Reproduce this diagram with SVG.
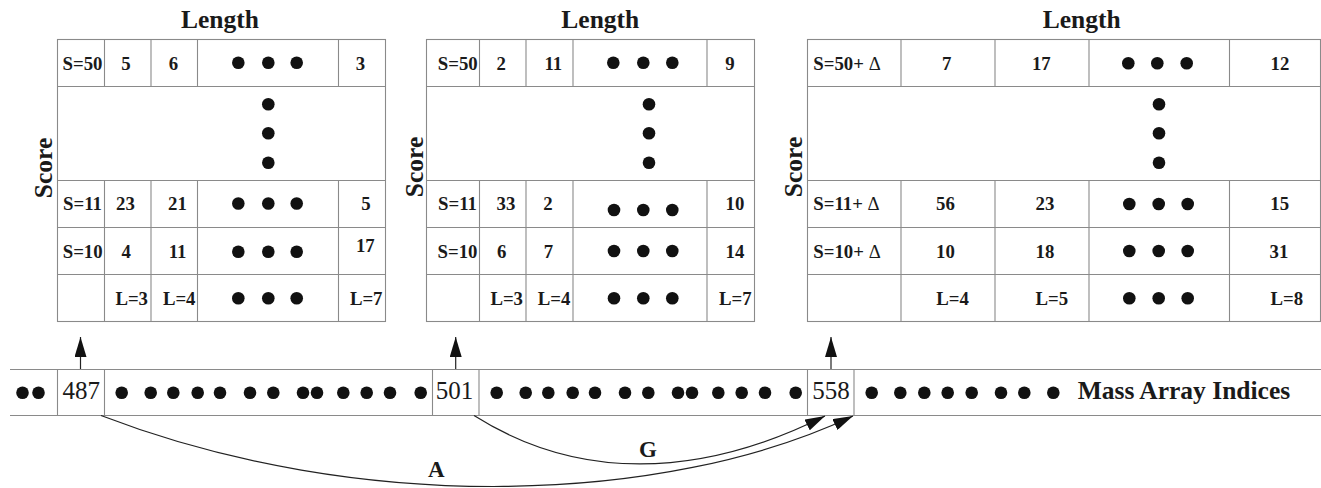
<svg xmlns="http://www.w3.org/2000/svg" xmlns:xlink="http://www.w3.org/1999/xlink" width="1321" height="488" viewBox="0 0 1321 488">
  <style>
    .grid { fill: none; stroke: #8a8a8a; stroke-width: 1.1; }
    .cell { font-family: "Liberation Serif", "Times New Roman", serif; font-weight: bold; font-size: 18.8px; fill: #1a1a1a; text-anchor: middle; }
    .lbl { text-anchor: start; }
    .delta { font-weight: normal; }
    .axis { font-family: "Liberation Serif", "Times New Roman", serif; font-weight: bold; font-size: 25.5px; fill: #1a1a1a; text-anchor: middle; }
    .idx { font-family: "Liberation Serif", "Times New Roman", serif; font-size: 25px; fill: #1a1a1a; text-anchor: middle; }
    .conn { fill: none; stroke: #222; stroke-width: 1.2; }
    .edge-label { font-family: "Liberation Serif", "Times New Roman", serif; font-weight: bold; font-size: 23px; fill: #1a1a1a; text-anchor: middle; }
  </style>
  <defs>
    <circle id="dot" r="6.3" fill="#111"/>
    <marker id="head" markerWidth="20" markerHeight="12" refX="20" refY="6" orient="auto" markerUnits="userSpaceOnUse">
      <path d="M0,0 L20,6 L0,12 Z" fill="#111"/>
    </marker>
  </defs>

  <rect width="1321" height="488" fill="#fff"/>

  <!-- score/length table at index 487 -->
  <g id="table-487">
    <text class="axis" x="220" y="28">Length</text>
    <text class="axis" transform="translate(52,168) rotate(-90)" font-size="26">Score</text>
    <rect class="grid" x="57.5" y="39.5" width="328" height="282"/>
    <path class="grid" d="M57.5,86.5H385.5 M57.5,180.5H385.5 M57.5,227.5H385.5 M57.5,274.5H385.5
      M104.5,39.5V86.5 M151,39.5V86.5 M197.5,39.5V86.5 M338.5,39.5V86.5
      M104.5,180.5V321.5 M151,180.5V321.5 M197.5,180.5V321.5 M338.5,180.5V321.5"/>
    <text class="cell" x="82.5" y="70">S=50</text>
    <text class="cell" x="126" y="70">5</text>
    <text class="cell" x="173.5" y="70">6</text>
    <use href="#dot" x="238.3" y="62.7"/><use href="#dot" x="268.3" y="62.7"/><use href="#dot" x="296.7" y="62.7"/>
    <text class="cell" x="360.5" y="70">3</text>
    <use href="#dot" x="268.3" y="104.3"/><use href="#dot" x="268.3" y="133.3"/><use href="#dot" x="268.3" y="162.7"/>
    <text class="cell" x="82.5" y="210">S=11</text>
    <text class="cell" x="125.5" y="210">23</text>
    <text class="cell" x="177.5" y="210">21</text>
    <use href="#dot" x="238.3" y="203.5"/><use href="#dot" x="268.3" y="203.5"/><use href="#dot" x="296.7" y="203.5"/>
    <text class="cell" x="366" y="210">5</text>
    <text class="cell" x="82.7" y="257.5">S=10</text>
    <text class="cell" x="126.3" y="257.5">4</text>
    <text class="cell" x="177.5" y="257.5">11</text>
    <use href="#dot" x="238.3" y="251.7"/><use href="#dot" x="268.3" y="251.7"/><use href="#dot" x="296.7" y="251.7"/>
    <text class="cell" x="365.3" y="251.7">17</text>
    <text class="cell" x="131.7" y="305">L=3</text>
    <text class="cell" x="179.2" y="305">L=4</text>
    <use href="#dot" x="238.3" y="298.3"/><use href="#dot" x="268.3" y="298.3"/><use href="#dot" x="296.7" y="298.3"/>
    <text class="cell" x="366.2" y="305">L=7</text>
  </g>

  <!-- score/length table at index 501 -->
  <g id="table-501">
    <text class="axis" x="600.3" y="28">Length</text>
    <text class="axis" transform="translate(422.7,167) rotate(-90)" font-size="26">Score</text>
    <rect class="grid" x="426.5" y="39.5" width="328" height="282"/>
    <path class="grid" d="M426.5,86.5H754.5 M426.5,180.5H754.5 M426.5,227.5H754.5 M426.5,274.5H754.5
      M479.5,39.5V86.5 M526,39.5V86.5 M573,39.5V86.5 M707,39.5V86.5
      M479.5,180.5V321.5 M526,180.5V321.5 M573,180.5V321.5 M707,180.5V321.5"/>
    <text class="cell" x="457.8" y="70">S=50</text>
    <text class="cell" x="501.3" y="70">2</text>
    <text class="cell" x="553.3" y="70">11</text>
    <use href="#dot" x="613.3" y="62.7"/><use href="#dot" x="643.3" y="62.7"/><use href="#dot" x="672.3" y="62.7"/>
    <text class="cell" x="730" y="70">9</text>
    <use href="#dot" x="649" y="104.3"/><use href="#dot" x="649" y="133.3"/><use href="#dot" x="649" y="162.7"/>
    <text class="cell" x="457.5" y="210">S=11</text>
    <text class="cell" x="506" y="210">33</text>
    <text class="cell" x="548" y="210">2</text>
    <use href="#dot" x="614" y="210"/><use href="#dot" x="643.3" y="210"/><use href="#dot" x="672.3" y="210"/>
    <text class="cell" x="735" y="210">10</text>
    <text class="cell" x="457.5" y="257.5">S=10</text>
    <text class="cell" x="501.7" y="257.5">6</text>
    <text class="cell" x="548.5" y="257.5">7</text>
    <use href="#dot" x="614" y="251"/><use href="#dot" x="643.3" y="251"/><use href="#dot" x="672.3" y="251"/>
    <text class="cell" x="735" y="257.5">14</text>
    <text class="cell" x="506.7" y="305">L=3</text>
    <text class="cell" x="554" y="305">L=4</text>
    <use href="#dot" x="614" y="298.3"/><use href="#dot" x="643.3" y="298.3"/><use href="#dot" x="672.3" y="298.3"/>
    <text class="cell" x="735.3" y="305">L=7</text>
  </g>

  <!-- score/length table at index 558 (shifted scores) -->
  <g id="table-558">
    <text class="axis" x="1081.7" y="28">Length</text>
    <text class="axis" transform="translate(802,167) rotate(-90)" font-size="26">Score</text>
    <rect class="grid" x="807.5" y="39.5" width="513" height="282"/>
    <path class="grid" d="M807.5,86.5H1320.5 M807.5,180.5H1320.5 M807.5,227.5H1320.5 M807.5,274.5H1320.5
      M901,39.5V86.5 M995,39.5V86.5 M1089,39.5V86.5 M1229.5,39.5V86.5
      M901,180.5V321.5 M995,180.5V321.5 M1089,180.5V321.5 M1229.5,180.5V321.5"/>
    <text class="cell lbl" x="813.3" y="70">S=50+ <tspan class="delta">Δ</tspan></text>
    <text class="cell" x="946.7" y="70">7</text>
    <text class="cell" x="1041.3" y="70">17</text>
    <use href="#dot" x="1128.3" y="63.3"/><use href="#dot" x="1157.3" y="63.3"/><use href="#dot" x="1186.7" y="63.3"/>
    <text class="cell" x="1280" y="70">12</text>
    <use href="#dot" x="1159" y="104.3"/><use href="#dot" x="1159" y="133.3"/><use href="#dot" x="1159" y="162.7"/>
    <text class="cell lbl" x="813.3" y="210">S=11+ <tspan class="delta">Δ</tspan></text>
    <text class="cell" x="945.5" y="210">56</text>
    <text class="cell" x="1045" y="210">23</text>
    <use href="#dot" x="1129.3" y="204"/><use href="#dot" x="1158.7" y="204"/><use href="#dot" x="1187.7" y="204"/>
    <text class="cell" x="1279.7" y="210">15</text>
    <text class="cell lbl" x="813.3" y="257.5">S=10+ <tspan class="delta">Δ</tspan></text>
    <text class="cell" x="945.5" y="257.5">10</text>
    <text class="cell" x="1045" y="257.5">18</text>
    <use href="#dot" x="1129.3" y="251"/><use href="#dot" x="1158.7" y="251"/><use href="#dot" x="1187.7" y="251"/>
    <text class="cell" x="1279" y="257.5">31</text>
    <text class="cell" x="952.5" y="305">L=4</text>
    <text class="cell" x="1051.8" y="305">L=5</text>
    <use href="#dot" x="1129.3" y="298.3"/><use href="#dot" x="1158.7" y="298.3"/><use href="#dot" x="1187.7" y="298.3"/>
    <text class="cell" x="1286.8" y="305">L=8</text>
  </g>

  <!-- mass array strip -->
  <g id="mass-array">
    <path class="grid" d="M10,369.5H1321 M10,415.5H1321
      M57.5,369.5V415.5 M104.5,369.5V415.5 M432.5,369.5V415.5 M479,369.5V415.5 M807.5,369.5V415.5 M854,369.5V415.5"/>
    <use href="#dot" x="22.5" y="392.7"/><use href="#dot" x="38.5" y="392.7"/>
    <text class="idx" x="81.3" y="398.5">487</text>
    <g id="gap-1">
      <use href="#dot" x="121.7" y="392.7"/><use href="#dot" x="150.7" y="392.7"/><use href="#dot" x="173.3" y="392.7"/>
      <use href="#dot" x="197.7" y="392.7"/><use href="#dot" x="220" y="392.7"/><use href="#dot" x="250" y="392.7"/>
      <use href="#dot" x="273.3" y="392.7"/><use href="#dot" x="303" y="392.7"/><use href="#dot" x="317" y="392.7"/>
      <use href="#dot" x="343.3" y="392.7"/><use href="#dot" x="366.7" y="392.7"/><use href="#dot" x="390" y="392.7"/>
      <use href="#dot" x="420.7" y="392.7"/>
    </g>
    <text class="idx" x="454.5" y="398.5">501</text>
    <use href="#gap-1" x="375"/>
    <text class="idx" x="831" y="398.5">558</text>
    <use href="#dot" x="871.7" y="392.7"/><use href="#dot" x="900.3" y="392.7"/><use href="#dot" x="924.3" y="392.7"/>
    <use href="#dot" x="947.7" y="392.7"/><use href="#dot" x="971.7" y="392.7"/><use href="#dot" x="1001" y="392.7"/>
    <use href="#dot" x="1024.3" y="392.7"/><use href="#dot" x="1053.3" y="392.7"/>
    <text class="axis" x="1077.7" y="398.7" style="text-anchor:start">Mass Array Indices</text>
  </g>

  <!-- pointers and jumps -->
  <g id="connectors">
    <path class="conn" d="M80.5,369 V337" marker-end="url(#head)"/>
    <path class="conn" d="M455.7,369 V337" marker-end="url(#head)"/>
    <path class="conn" d="M831,369 V337" marker-end="url(#head)"/>
    <path class="conn" d="M101,415.5 C360,515 665,505 853,416" marker-end="url(#head)"/>
    <path class="conn" d="M474,415.5 C576,480 697,480 825,416" marker-end="url(#head)"/>
    <text class="edge-label" x="648" y="456.7">G</text>
    <text class="edge-label" x="436.3" y="477" font-size="22">A</text>
  </g>
</svg>
